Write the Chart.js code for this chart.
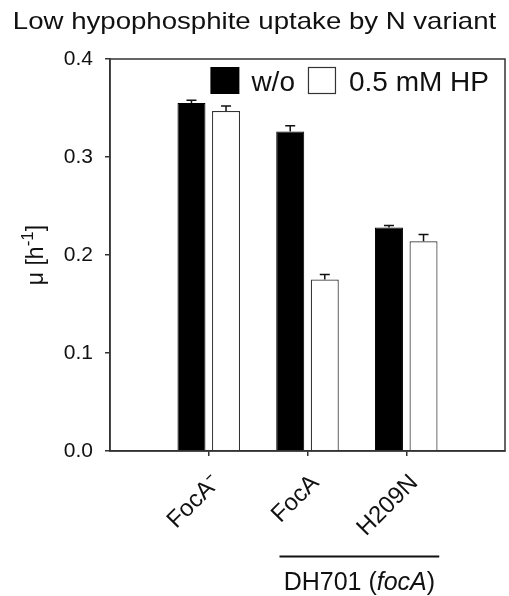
<!DOCTYPE html>
<html lang="en">
<head>
    <meta charset="UTF-8">
    <title>Low hypophosphite uptake by N variant</title>
    <script src="https://cdn.jsdelivr.net/npm/chart.js"></script>
    <style>
        html, body { margin: 0; padding: 0; background: #fff; }
        #wrap { width: 509px; height: 596px; }
    </style>
</head>
<body>
    <div id="wrap"><canvas id="growthChart" width="509" height="596"></canvas></div>

    <script>
    // categories (blank slots at both ends keep the groups off the frame)
    const categories = ["", "FocA\u207B", "FocA", "H209N", ""];
    const seriesNames = ["w/o", "0.5 mM HP"];

    // growth rate mu [h-1]
    const withoutHP = [null, 0.355, 0.326, 0.228, null];
    const withHP = [null, 0.347, 0.175, 0.214, null];

    // standard deviations (upper error bars only)
    const withoutHPErr = [null, 0.003, 0.006, 0.002, null];
    const withHPErr = [null, 0.005, 0.005, 0.007, null];

    const yTicks = [0.0, 0.1, 0.2, 0.3, 0.4];

    const FONT = "'Liberation Sans', Arial, sans-serif";
    const AXIS = "#333";

    // upper-only error bars with a cap
    const errorBars = {
        id: "errorBars",
        afterDatasetsDraw(chart) {
            const errs = [withoutHPErr, withHPErr];
            const y = chart.scales.y;
            const ctx = chart.ctx;
            ctx.save();
            ctx.strokeStyle = "#111";
            ctx.lineWidth = 1.5;
            chart.data.datasets.forEach((ds, di) => {
                chart.getDatasetMeta(di).data.forEach((bar, i) => {
                    if (ds.data[i] == null) return;
                    const top = y.getPixelForValue(ds.data[i] + errs[di][i]);
                    ctx.beginPath();
                    ctx.moveTo(bar.x, bar.y);
                    ctx.lineTo(bar.x, top);
                    ctx.moveTo(bar.x - 5, top);
                    ctx.lineTo(bar.x + 5, top);
                    ctx.stroke();
                });
            });
            ctx.restore();
        }
    };

    // draws runs of [text, font, dy] one after another from x
    function drawRuns(ctx, runs, x, y) {
        runs.forEach(r => {
            ctx.font = r[1];
            ctx.fillText(r[0], x, y + (r[2] || 0));
            x += ctx.measureText(r[0]).width;
        });
    }
    function runsWidth(ctx, runs) {
        return runs.reduce((w, r) => { ctx.font = r[1]; return w + ctx.measureText(r[0]).width; }, 0);
    }

    // frame, title, y title, legend and the strain bracket under the x labels
    const decorations = {
        id: "decorations",
        afterDraw(chart) {
            const ctx = chart.ctx;
            const a = chart.chartArea;
            const x = chart.scales.x;
            ctx.save();
            ctx.strokeStyle = AXIS;
            ctx.lineWidth = 1.5;
            ctx.strokeRect(a.left, a.top, a.right - a.left, a.bottom - a.top);

            ctx.fillStyle = "#111";
            ctx.textBaseline = "alphabetic";

            // title (the original lettering is set quite wide)
            ctx.save();
            ctx.font = "24px " + FONT;
            ctx.textAlign = "center";
            ctx.translate(chart.width / 2, 29);
            ctx.scale(1.15, 1);
            ctx.fillText("Low hypophosphite uptake by N variant", 0, 0);
            ctx.restore();

            // y axis title with a real superscript
            ctx.save();
            ctx.textAlign = "left";
            const yRuns = [["\u03BC [h", "23px " + FONT], ["-1", "17px " + FONT, -10], ["]", "23px " + FONT]];
            ctx.translate(43, (a.top + a.bottom) / 2);
            ctx.rotate(-Math.PI / 2);
            drawRuns(ctx, yRuns, -runsWidth(ctx, yRuns) / 2, 0);
            ctx.restore();

            // legend inside the frame, top right
            const ds = chart.data.datasets;
            ctx.textAlign = "left";
            ctx.font = "28px " + FONT;
            const tw0 = ctx.measureText(seriesNames[0]).width;
            const tw1 = ctx.measureText(seriesNames[1]).width;
            let lx = a.right - 16 - (29 + 12 + tw0 + 13 + 28 + 13 + tw1);
            const ly = a.top + 8;
            ctx.fillStyle = ds[0].backgroundColor;
            ctx.fillRect(lx, ly, 29, 27);
            ctx.fillStyle = "#111";
            ctx.fillText(seriesNames[0], lx + 41, ly + 24);
            lx += 41 + tw0 + 13;
            ctx.fillStyle = ds[1].backgroundColor;
            ctx.fillRect(lx, ly, 28, 27);
            ctx.strokeStyle = ds[1].borderColor;
            ctx.lineWidth = 1.2;
            ctx.strokeRect(lx + 0.5, ly + 0.5, 27, 26);
            ctx.fillStyle = "#111";
            ctx.fillText(seriesNames[1], lx + 41, ly + 24);

            // bracket under the two focA strains
            const x1 = x.getPixelForValue(2) - 28;
            const x2 = x.getPixelForValue(3) + 33;
            ctx.strokeStyle = "#111";
            ctx.lineWidth = 2;
            ctx.beginPath();
            ctx.moveTo(x1, 556.5);
            ctx.lineTo(x2, 556.5);
            ctx.stroke();

            const strain = [["DH701 (", "25px " + FONT], ["focA", "italic 25px " + FONT], [")", "25px " + FONT]];
            drawRuns(ctx, strain, (x1 + x2) / 2 - runsWidth(ctx, strain) / 2, 590);
            ctx.restore();
        }
    };

    new Chart(document.getElementById("growthChart"), {
        type: "bar",
        data: {
            labels: categories,
            datasets: [
                {
                    label: seriesNames[0],
                    data: withoutHP,
                    backgroundColor: "#000",
                    borderColor: "#000",
                    borderWidth: 1
                },
                {
                    label: seriesNames[1],
                    data: withHP,
                    backgroundColor: "#fff",
                    borderColor: "#333",
                    borderWidth: 1.2
                }
            ]
        },
        options: {
            responsive: false,
            animation: false,
            categoryPercentage: 0.7,
            barPercentage: 0.81,
            layout: { padding: { top: 59, right: 4, left: 0, bottom: 0 } },
            plugins: {
                tooltip: { enabled: false },
                legend: { display: false }
            },
            scales: {
                x: {
                    offset: false,
                    afterFit(scale) {
                        scale.height = 145;
                        scale.paddingLeft = 0;
                        scale.paddingRight = 0;
                    },
                    grid: {
                        offset: false,
                        drawOnChartArea: false,
                        tickLength: 5,
                        color: ctx => (ctx.index === 0 || ctx.index === 4) ? "rgba(0,0,0,0)" : AXIS,
                        lineWidth: 1.5
                    },
                    border: { color: AXIS, width: 1.5 },
                    ticks: {
                        color: "#111",
                        font: { family: FONT, size: 24 },
                        maxRotation: 45,
                        minRotation: 45,
                        padding: 13,
                        labelOffset: 8,
                        autoSkip: false
                    }
                },
                y: {
                    min: 0,
                    max: 0.4,
                    afterFit(scale) { scale.width = 110; },
                    afterBuildTicks(scale) { scale.ticks = yTicks.map(v => ({ value: v })); },
                    grid: { drawOnChartArea: false, tickLength: 5, color: AXIS, lineWidth: 1.5 },
                    border: { color: AXIS, width: 1.5 },
                    ticks: {
                        color: "#111",
                        font: { family: FONT, size: 21 },
                        padding: 12,
                        callback: v => v.toFixed(1)
                    }
                }
            }
        },
        plugins: [errorBars, decorations]
    });
    </script>
</body>
</html>
